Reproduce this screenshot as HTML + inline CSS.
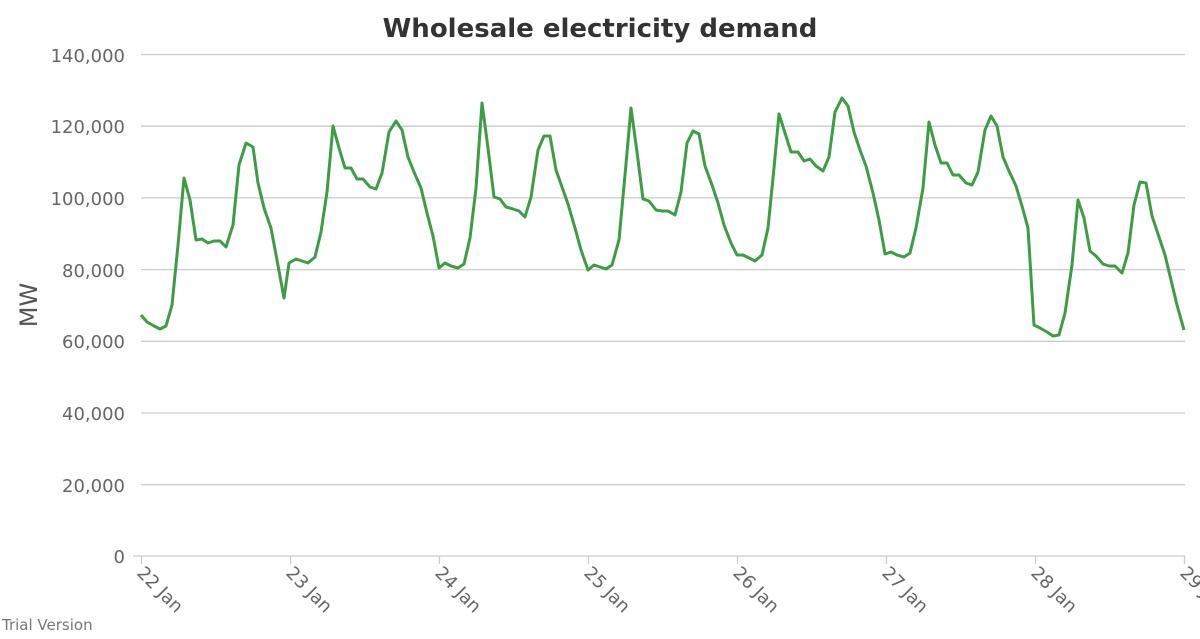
<!DOCTYPE html>
<html><head><style>body{margin:0;background:#fff}</style></head><body>
<svg width="1200" height="634" xmlns="http://www.w3.org/2000/svg" font-family="DejaVu Sans, sans-serif">
<text x="600" y="37" text-anchor="middle" font-size="26" font-weight="bold" fill="#333">Wholesale electricity demand</text>
<g stroke="#ccc" stroke-width="1.3">
<line x1="141" x2="1185" y1="54.5" y2="54.5"/><line x1="141" x2="1185" y1="126.2" y2="126.2"/><line x1="141" x2="1185" y1="197.9" y2="197.9"/><line x1="141" x2="1185" y1="269.6" y2="269.6"/><line x1="141" x2="1185" y1="341.3" y2="341.3"/><line x1="141" x2="1185" y1="413" y2="413"/><line x1="141" x2="1185" y1="484.7" y2="484.7"/><line x1="133" x2="1185" y1="556" y2="556"/>
<line x1="141.5" x2="141.5" y1="556" y2="564"/><line x1="290.5" x2="290.5" y1="556" y2="564"/><line x1="439.5" x2="439.5" y1="556" y2="564"/><line x1="588.5" x2="588.5" y1="556" y2="564"/><line x1="737.5" x2="737.5" y1="556" y2="564"/><line x1="886.5" x2="886.5" y1="556" y2="564"/><line x1="1035.5" x2="1035.5" y1="556" y2="564"/><line x1="1184.5" x2="1184.5" y1="556" y2="564"/>
</g>
<g font-size="18" fill="#666" text-anchor="end">
<text x="125" y="62">140,000</text><text x="125" y="133">120,000</text><text x="125" y="205">100,000</text><text x="125" y="277">80,000</text><text x="125" y="348">60,000</text><text x="125" y="420">40,000</text><text x="125" y="492">20,000</text><text x="125" y="563">0</text>
</g>
<text transform="translate(37,305) rotate(-90)" text-anchor="middle" font-size="24" fill="#555">MW</text>
<g font-size="18" fill="#666">
<text transform="translate(136,574) rotate(45)">22 Jan</text><text transform="translate(285,574) rotate(45)">23 Jan</text><text transform="translate(434,574) rotate(45)">24 Jan</text><text transform="translate(583,574) rotate(45)">25 Jan</text><text transform="translate(732,574) rotate(45)">26 Jan</text><text transform="translate(881,574) rotate(45)">27 Jan</text><text transform="translate(1030,574) rotate(45)">28 Jan</text><text transform="translate(1179,574) rotate(45)">29 Jan</text>
</g>
<text x="2" y="630" font-size="15" fill="#777">Trial Version</text>
<polyline fill="none" stroke="#3e9d44" stroke-width="3" stroke-linejoin="round" points="141,315 147,322 154,326 160,329 166,326 172,305 178,245 184,178 190,200 196,240 202,239 208,243 214,241 220,241 226,247 233,225 239,165 246,143 253,147 258,183 264,208 271,228 277,260 284,298 289,263 296,259 302,261 308,263 315,257 321,232 327,192 333,126 339,148 345,168 351,168 357,179 363,179 370,187 376,189 382,173 389,132 396,121 402,130 408,157 414,172 421,188 427,213 433,236 439,268 445,263 451,266 458,268 464,264 470,238 476,188 482,103 488,148 494,197 500,199 506,207 513,209 519,211 525,217 531,197 538,150 544,136 550,136 556,170 562,187 568,204 575,228 581,250 588,270 594,265 600,267 606,269 612,265 619,240 625,175 631,108 637,152 643,199 649,201 656,210 662,211 668,211 675,215 681,192 687,143 693,131 699,134 705,166 712,185 718,203 724,225 731,243 737,255 743,255 749,258 755,261 762,255 768,228 774,168 779,114 785,133 791,152 798,152 804,161 810,159 816,166 823,171 829,157 835,112 842,98 848,106 854,132 860,150 866,166 873,193 879,220 885,254 891,252 897,255 904,257 910,253 916,228 923,188 929,122 935,145 941,163 947,163 953,175 959,175 966,183 972,185 978,172 985,130 991,116 997,126 1003,157 1009,171 1016,186 1022,206 1028,228 1034,325 1040,328 1047,332 1053,336 1059,335 1065,313 1072,265 1078,200 1084,218 1090,251 1096,256 1103,264 1109,266 1115,266 1122,273 1128,253 1134,205 1140,182 1146,183 1152,216 1159,237 1165,255 1171,280 1177,305 1184,330"/>
</svg>
</body></html>
